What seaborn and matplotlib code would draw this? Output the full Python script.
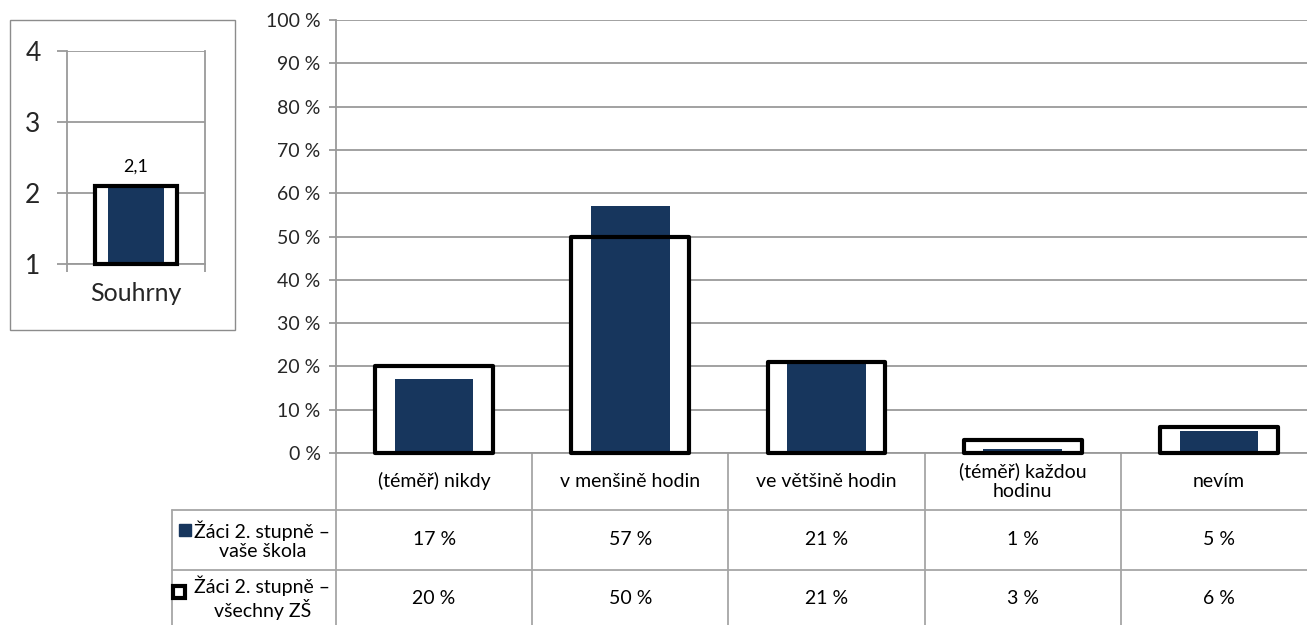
import numpy as np
import pandas as pd
import matplotlib
matplotlib.use("Agg")
import matplotlib.pyplot as plt
from matplotlib.patches import Rectangle
from matplotlib.transforms import blended_transform_factory
import seaborn as sns

# ---------------- data ----------------
categories = ["(téměř) nikdy", "v menšině hodin", "ve většině hodin",
              "(téměř) každou\nhodinu", "nevím"]
school_vals = [17, 57, 21, 1, 5]          # Žáci 2. stupně – vaše škola
all_vals = [20, 50, 21, 3, 6]             # Žáci 2. stupně – všechny ZŠ
series_names = ["Žáci 2. stupně –\nvaše škola", "Žáci 2. stupně –\nvšechny ZŠ"]

summary_cat = ["Souhrny"]
summary_school = [2.1]
summary_all = [2.1]
summary_ticks = [1, 2, 3, 4]
pct_ticks = list(range(0, 101, 10))

# ---------------- style ----------------
BLUE = "#17365d"
GRID = "#9a9a9a"
TABLE = "#a6a6a6"
FS = 14

sns.set_theme(style="white")
plt.rcParams["font.family"] = ["Lato", "DejaVu Sans"]
plt.rcParams["text.color"] = "black"

W, H = 1307, 625
fig = plt.figure(figsize=(W / 100, H / 100), dpi=100)

df_school = pd.DataFrame({"cat": categories, "val": school_vals})
df_all = pd.DataFrame({"cat": categories, "val": all_vals})

# ---------------- main chart ----------------
ax = fig.add_axes([336 / W, (H - 453) / H, 981 / W, 433 / H])
ax.set_axisbelow(True)
ax.yaxis.grid(True, color=GRID, lw=1.3)
sns.barplot(data=df_all, x="cat", y="val", order=categories, color="white",
            saturation=1, width=0.6, linewidth=0, ax=ax, zorder=2)
sns.barplot(data=df_school, x="cat", y="val", order=categories, color=BLUE,
            saturation=1, width=0.4, linewidth=0, ax=ax, zorder=3)
sns.barplot(data=df_all, x="cat", y="val", order=categories, color="black",
            fill=False, width=0.6, linewidth=3, ax=ax, zorder=4)
for p in ax.containers[2]:
    p.set_clip_on(False)
    p.set_joinstyle("round")

ax.set_xlim(-0.5, len(categories) - 0.5)
ax.set_ylim(0, 100)
ax.set_yticks(pct_ticks)
ax.set_yticklabels([f"{t} %" for t in pct_ticks], fontsize=FS)
ax.set_xticks([])
ax.set_xlabel("")
ax.set_ylabel("")
ax.tick_params(axis="y", length=5, color=GRID, width=1.3, pad=6, left=True)
for s in ["top", "right"]:
    ax.spines[s].set_visible(False)
for s in ["left", "bottom"]:
    ax.spines[s].set_color(GRID)
    ax.spines[s].set_linewidth(1.3)

# ---------------- data table below ----------------
tr = blended_transform_factory(ax.transData, ax.transAxes)
y_line1, y_line2, y_bot = -0.1316, -0.2702, -0.40
y_head, y_r1, y_r2 = -0.0647, -0.2009, -0.3349
x_left = -1.337
n = len(categories)
for b in np.arange(-0.5, n, 1.0):
    ax.plot([b, b], [0, y_bot], transform=tr, color=TABLE, lw=1.3, clip_on=False)
ax.plot([x_left, x_left], [y_line1, y_bot], transform=tr, color=TABLE, lw=1.3, clip_on=False)
for yl in (y_line1, y_line2):
    ax.plot([x_left, n - 0.5], [yl, yl], transform=tr, color=TABLE, lw=1.3, clip_on=False)

for i, c in enumerate(categories):
    ax.text(i, y_head, c, transform=tr, ha="center", va="center", fontsize=FS,
            linespacing=1.15)
    ax.text(i, y_r1, f"{school_vals[i]} %", transform=tr, ha="center", va="center", fontsize=FS)
    ax.text(i, y_r2, f"{all_vals[i]} %", transform=tr, ha="center", va="center", fontsize=FS)

ax.text(-0.875, y_r1, series_names[0], transform=tr, ha="center", va="center",
        fontsize=FS, multialignment="center", linespacing=1.15)
ax.text(-0.875, y_r2, series_names[1], transform=tr, ha="center", va="center",
        fontsize=FS, multialignment="center", linespacing=1.15)
ax.plot([-1.268], [-0.1767], transform=tr, marker="s", ms=8.5, color=BLUE,
        mec=BLUE, clip_on=False, ls="none")
ax.plot([-1.300], [-0.321], transform=tr, marker="s", ms=8.5, mfc="white",
        mec="black", mew=3, clip_on=False, ls="none")

# ---------------- summary panel ----------------
fig.add_artist(Rectangle((10 / W, (H - 330) / H), 225 / W, 310 / H,
                         transform=fig.transFigure, fill=False,
                         edgecolor="#8c8c8c", lw=1))
ax2 = fig.add_axes([67 / W, (H - 264) / H, 138 / W, 213 / H])
ax2.set_axisbelow(True)
ax2.yaxis.grid(True, color=GRID, lw=1.3)
dfs_school = pd.DataFrame({"cat": summary_cat, "val": summary_school})
dfs_all = pd.DataFrame({"cat": summary_cat, "val": summary_all})
sns.barplot(data=dfs_all, x="cat", y="val", color="white", saturation=1,
            width=0.6, linewidth=0, ax=ax2, zorder=2)
sns.barplot(data=dfs_school, x="cat", y="val", color=BLUE, saturation=1,
            width=0.41, linewidth=0, ax=ax2, zorder=3)
sns.barplot(data=dfs_all, x="cat", y="val", color="black", fill=False,
            width=0.6, linewidth=3, ax=ax2, zorder=4)
base = summary_ticks[0]
for cont in ax2.containers:
    for p in cont:
        top = p.get_y() + p.get_height()
        p.set_y(base)
        p.set_height(top - base)
for p in ax2.containers[2]:
    p.set_clip_on(False)
ax2.bar_label(ax2.containers[1],
              labels=[f"{v:.1f}".replace(".", ",") for v in summary_school],
              padding=8, fontsize=13)
ax2.set_xlim(-0.5, 0.5)
ax2.set_ylim(summary_ticks[0], summary_ticks[-1])
ax2.set_yticks(summary_ticks)
ax2.set_yticklabels([str(t) for t in summary_ticks], fontsize=19)
ax2.set_xticks([0])
ax2.set_xticklabels(summary_cat, fontsize=18)
ax2.set_xticks([-0.5, 0.5], minor=True)
ax2.tick_params(axis="x", which="major", length=0, pad=13)
ax2.tick_params(axis="x", which="minor", length=6, color=GRID, width=1.3, bottom=True)
ax2.tick_params(axis="y", length=7, color=GRID, width=1.3, pad=12, left=True)
ax2.set_xlabel("")
ax2.set_ylabel("")
ax2.spines["top"].set_visible(False)
for s in ["left", "right", "bottom"]:
    ax2.spines[s].set_color(GRID)
    ax2.spines[s].set_linewidth(1.3)

fig.savefig("out.png", dpi=100)
